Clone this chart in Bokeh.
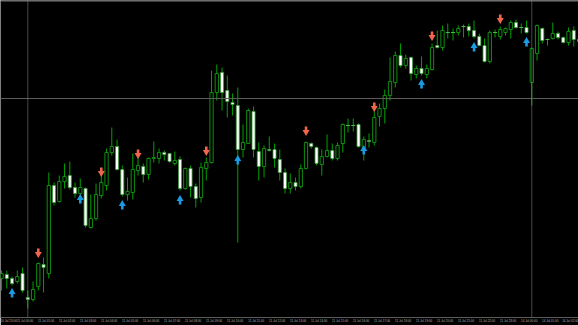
from bokeh.plotting import figure
from bokeh.models import Range1d, Span, FixedTicker, ColumnDataSource
from bokeh.embed import file_html
from bokeh.resources import INLINE

# M15 candles (price levels, arbitrary units)
opens = [122, 126, 122, 119, 127, 103, 101, 114, 136, 127,
         215, 199, 219, 225, 213, 207, 212, 173, 182, 205,
         215, 248, 254, 231, 206, 208, 230, 234, 226, 242,
         242, 248, 247, 237, 241, 212, 232, 214, 203, 232,
         238, 308, 328, 310, 298, 295, 251, 257, 289, 249,
         234, 251, 251, 241, 228, 212, 218, 214, 232, 257,
         253, 236, 244, 250, 242, 257, 275, 275, 276, 253,
         260, 258, 284, 292, 305, 318, 345, 335, 343, 326,
         332, 326, 331, 355, 353, 368, 368, 368, 374, 374,
         370, 364, 355, 339, 368, 364, 368, 371, 378, 373,
         373, 318, 347, 372, 361, 362, 367, 363, 358, 370, 361]
highs = [130, 130, 124, 130, 133, 110, 119, 138, 143, 228,
         218, 225, 237, 239, 218, 222, 213, 206, 217, 227,
         252, 273, 261, 235, 223, 247, 243, 237, 243, 259,
         252, 250, 247, 249, 244, 233, 235, 217, 238, 243,
         330, 336, 333, 325, 307, 313, 276, 292, 294, 258,
         255, 264, 257, 251, 232, 227, 223, 236, 259, 258,
         254, 251, 266, 257, 258, 277, 282, 282, 277, 264,
         267, 290, 297, 311, 343, 349, 357, 346, 344, 335,
         344, 336, 357, 370, 375, 377, 372, 375, 376, 377,
         380, 367, 362, 370, 371, 374, 373, 380, 381, 377,
         380, 353, 376, 373, 362, 378, 369, 364, 373, 374, 363]
lows = [110, 112, 115, 117, 108, 92, 99, 110, 108, 122,
        195, 198, 212, 211, 203, 205, 173, 172, 180, 202,
        210, 245, 230, 204, 200, 201, 225, 218, 221, 238,
        237, 240, 238, 235, 210, 211, 203, 193, 198, 220,
        237, 300, 290, 283, 285, 158, 243, 257, 243, 220,
        223, 249, 233, 220, 207, 207, 210, 212, 231, 252,
        235, 225, 243, 240, 240, 248, 268, 269, 253, 240,
        253, 255, 274, 277, 300, 313, 333, 332, 320, 322,
        325, 322, 330, 352, 350, 362, 360, 365, 363, 364,
        362, 354, 338, 337, 363, 361, 365, 362, 372, 367,
        367, 295, 340, 357, 355, 361, 361, 357, 355, 354, 357]
closes = [127, 122, 117, 124, 110, 101, 111, 137, 133, 215,
          198, 219, 224, 213, 207, 213, 175, 182, 206, 218,
          248, 254, 231, 206, 209, 231, 235, 226, 242, 243,
          248, 246, 239, 240, 212, 232, 214, 202, 233, 238,
          308, 327, 308, 299, 296, 251, 258, 290, 251, 234,
          252, 250, 242, 228, 212, 218, 214, 232, 258, 254,
          237, 244, 250, 242, 255, 276, 275, 275, 254, 261,
          259, 283, 292, 305, 319, 345, 335, 342, 327, 332,
          327, 332, 353, 353, 370, 368, 368, 372, 374, 370,
          364, 355, 339, 368, 368, 371, 372, 378, 373, 373,
          368, 352, 375, 360, 361, 367, 363, 358, 369, 361, 359]

# indicator arrows: bar index and level
buy_bars = [2, 15, 23, 34, 45, 69, 80, 90, 100]
buy_levels = [107, 201, 195, 200, 240, 250, 316, 353, 358]
sell_bars = [7, 19, 26, 39, 58, 71, 82, 95]
sell_levels = [148, 229, 247, 250, 270, 294, 365, 382]

# time axis labels (one per hour) and the bar they belong to
label_bars = [1, 5, 9, 13, 17, 21, 25, 29, 33, 37, 41, 45, 49, 53,
              57, 61, 65, 69, 73, 77, 81, 85, 89, 93, 97, 101, 105, 109]
label_texts = ["10 Jul 23:00", "11 Jul 00:00", "11 Jul 01:00", "11 Jul 02:00",
               "11 Jul 03:00", "11 Jul 04:00", "11 Jul 05:00", "11 Jul 06:00",
               "11 Jul 07:00", "11 Jul 08:00", "11 Jul 09:00", "11 Jul 10:00",
               "11 Jul 11:00", "11 Jul 12:00", "11 Jul 13:00", "11 Jul 14:00",
               "11 Jul 15:00", "11 Jul 16:00", "11 Jul 17:00", "11 Jul 18:00",
               "11 Jul 19:00", "11 Jul 20:00", "11 Jul 21:00", "11 Jul 22:00",
               "11 Jul 23:00", "14 Jul 00:00", "14 Jul 01:00", "14 Jul 02:00"]
day_separator_bars = [5, 101]
crosshair_level = 302

idx = list(range(len(opens)))
bull = [i for i in idx if closes[i] > opens[i]]
bear = [i for i in idx if closes[i] < opens[i]]
doji = [i for i in idx if closes[i] == opens[i]]

p = figure(width=578, height=325, output_backend="svg", toolbar_location=None,
           x_range=Range1d(-0.2, 109.9), y_range=Range1d(83, 400),
           y_axis_location=None, min_border_left=0, min_border_right=0,
           min_border_top=0, min_border_bottom=8)
p.background_fill_color = "black"
p.border_fill_color = "black"
p.outline_line_color = None
p.xgrid.visible = False
p.ygrid.visible = False

ax = p.xaxis[0]
ax.ticker = FixedTicker(ticks=[b - 0.5 for b in label_bars])
ax.major_label_overrides = {b - 0.5: t for b, t in zip(label_bars, label_texts)}
ax.axis_line_color = "#5a5a5a"
ax.major_tick_line_color = None
ax.minor_tick_line_color = None
ax.major_tick_out = 0
ax.major_tick_in = 0
ax.major_label_standoff = 2
ax.major_label_text_font = "Liberation Sans"
ax.major_label_text_font_size = "3px"
ax.major_label_text_color = "#b4b4b4"

# top border, crosshair line, day separators
p.add_layout(Span(location=399.3, dimension="width", line_color="#3c3c3c", line_width=1.5))
p.add_layout(Span(location=crosshair_level, dimension="width", line_color="#5c5c5c", line_width=1))
for b in day_separator_bars:
    p.add_layout(Span(location=b, dimension="height", line_color="#8c8c8c",
                      line_width=1, line_dash="1 1"))

# wicks
p.segment(x0=idx, y0=lows, x1=idx, y1=highs, line_color="#00a000", line_width=1)

# bodies
p.vbar(x=bull, width=0.62, bottom=[opens[i] for i in bull], top=[closes[i] for i in bull],
       fill_color="black", line_color="#0e8c0e", line_width=1)
p.vbar(x=bear, width=0.58, top=[opens[i] for i in bear], bottom=[closes[i] for i in bear],
       fill_color="white", line_color="#3c9c3c", line_width=0.8)
p.scatter(x=doji, y=[closes[i] for i in doji], marker="dash", size=4,
          line_color="#40c040", line_width=1.2)

# arrows
blue = "#1b9be3"
red = "#f0654c"
p.rect(x=buy_bars, y=[v - 2 for v in buy_levels], width=2.6, width_units="screen",
       height=4, fill_color=blue, line_color=None)
p.scatter(x=buy_bars, y=[v + 1.5 for v in buy_levels], marker="triangle", size=7,
          fill_color=blue, line_color=None)
p.rect(x=sell_bars, y=[v + 2 for v in sell_levels], width=2.6, width_units="screen",
       height=4, fill_color=red, line_color=None)
p.scatter(x=sell_bars, y=[v - 1.5 for v in sell_levels], marker="inverted_triangle", size=7,
          fill_color=red, line_color=None)

open("out.html", "w").write(file_html(p, INLINE))
